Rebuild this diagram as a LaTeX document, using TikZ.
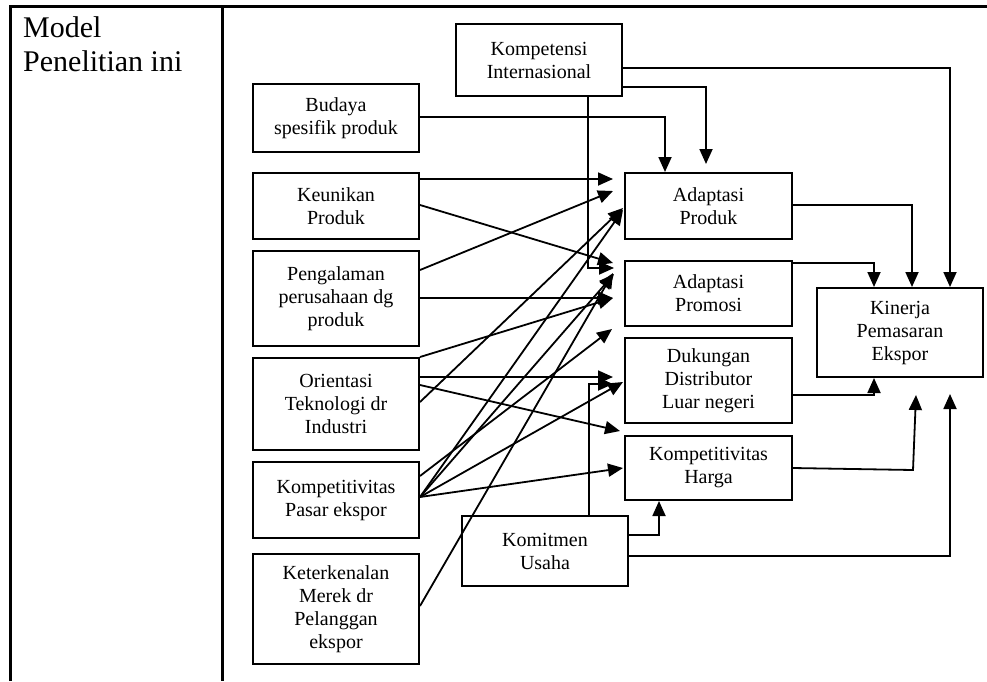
\documentclass[tikz,border=0pt]{standalone}
\usepackage{fontspec}
\setmainfont{Liberation Serif}
\usetikzlibrary{arrows.meta,calc}
\begin{document}
\begin{tikzpicture}[x=1pt,y=-1pt,
  box/.style={draw, line width=2pt, align=center, inner sep=0pt, anchor=north west,
              font=\fontsize{20}{23}\selectfont},
  link/.style={line width=1.8pt},
  arr/.style={link, -{Triangle[length=15pt,width=13pt]}},
  frame/.style={line width=3pt},
  title/.style={anchor=base west, inner sep=0pt, font=\fontsize{30}{34}\selectfont}]

\useasboundingbox (0,0) rectangle (987,681);

% table frame
\draw[frame] (10,681) -- (10,6) -- (987,6);
\draw[frame] (222,6) -- (222,681);

% left column
\node[title] (t1) at (23,37) {Model};
\node[title] (t2) at (23,71) {Penelitian ini};

% antecedent boxes
\node[box, minimum width=166pt, minimum height=72pt]  (ki)  at (455,23)  {Kompetensi\\Internasional};
\node[box, minimum width=166pt, minimum height=68pt]  (bsp) at (252,83)  {Budaya\\spesifik produk};
\node[box, minimum width=166pt, minimum height=66pt]  (kp)  at (252,172) {Keunikan\\Produk};
\node[box, minimum width=166pt, minimum height=95pt]  (pp)  at (252,250) {Pengalaman\\perusahaan dg\\produk};
\node[box, minimum width=166pt, minimum height=92pt]  (ot)  at (252,357) {Orientasi\\Teknologi dr\\Industri};
\node[box, minimum width=166pt, minimum height=76pt]  (kpe) at (252,461) {Kompetitivitas\\Pasar ekspor};
\node[box, minimum width=166pt, minimum height=110pt] (km)  at (252,553) {Keterkenalan\\Merek dr\\Pelanggan\\ekspor};
\node[box, minimum width=166pt, minimum height=70pt]  (ku)  at (461,515) {Komitmen\\Usaha};

% mediating boxes
\node[box, minimum width=167pt, minimum height=66pt]  (ap)  at (624,172) {Adaptasi\\Produk};
\node[box, minimum width=167pt, minimum height=65pt]  (apr) at (624,260) {Adaptasi\\Promosi};
\node[box, minimum width=167pt, minimum height=85pt]  (dd)  at (624,337) {Dukungan\\Distributor\\Luar negeri};
\node[box, minimum width=167pt, minimum height=64pt]  (kh)  at (624,435) {Kompetitivitas\\Harga};

% outcome
\node[box, minimum width=166pt, minimum height=89pt]  (kin) at (816,287) {Kinerja\\Pemasaran\\Ekspor};

% free arrow end
\coordinate (free) at ($(apr.south west)+(-12,2)$);

% Kompetensi Internasional
\draw[arr] ($(ki.north east)+(0,45)$) -| ($(kin.north west)+(134,0)$);
\draw[arr] ($(ki.north east)+(0,64)$) -| ($(ap.north west)+(82,-8)$);
\draw[arr] ($(ki.south west)+(133,0)$) |- ($(apr.north west)+(-10,8)$);

% Budaya spesifik produk
\draw[arr] ($(bsp.north east)+(0,34)$) -| ($(ap.north west)+(41,0)$);

% Keunikan Produk
\draw[arr] ($(kp.north east)+(0,7)$)  -- ($(ap.north west)+(-11,7)$);
\draw[arr] ($(kp.north east)+(0,33)$) -- ($(apr.north west)+(-11,3)$);

% Pengalaman perusahaan
\draw[arr] ($(pp.north east)+(0,20)$) -- ($(ap.north west)+(-11,19)$);
\draw[arr] ($(pp.north east)+(0,48)$) -- ($(apr.north west)+(-11,38)$);

% Orientasi Teknologi
\draw[arr] (ot.north east) -- ($(apr.north west)+(-11,38)$);
\draw[arr] ($(ot.north east)+(0,45)$) -- ($(ap.north west)+(-1,36)$);
\draw[arr] ($(ot.north east)+(0,20)$) -- ($(dd.north west)+(-11,40)$);
\draw[arr] ($(ot.north east)+(0,28)$) -- ($(kh.north west)+(-4,-4)$);

% Kompetitivitas Pasar ekspor
\draw[arr] ($(kpe.north east)+(0,15)$) -- (free);
\draw[arr] ($(kpe.north east)+(0,36)$) -- ($(ap.north west)+(-1,38)$);
\draw[arr] ($(kpe.north east)+(0,36)$) -- ($(apr.north west)+(-10,14)$);
\draw[arr] ($(kpe.north east)+(0,36)$) -- ($(dd.north west)+(-1,45)$);
\draw[arr] ($(kpe.north east)+(0,36)$) -- ($(kh.north west)+(-1,33)$);

% Keterkenalan Merek
\draw[arr] ($(km.north east)+(0,53)$) -- ($(apr.north west)+(-11,13)$);

% Komitmen Usaha
\draw[arr] ($(ku.north west)+(128,0)$) |- ($(dd.north west)+(-11,47)$);
\draw[arr] ($(ku.north east)+(0,20)$) -| ($(kh.south west)+(35,0)$);
\draw[arr] ($(ku.north east)+(0,41)$) -| ($(kin.south west)+(134,16)$);

% mediators to Kinerja
\draw[arr] ($(ap.north east)+(0,33)$) -| ($(kin.north west)+(96,0)$);
\draw[arr] ($(apr.north east)+(0,3)$) -| ($(kin.north west)+(58,0)$);
\draw[arr] ($(dd.north east)+(0,58)$) -| ($(kin.south west)+(58,0)$);
\draw[arr] ($(kh.north east)+(0,33)$) -- ($(kin.south west)+(97,92)$) -- ($(kin.south west)+(100,17)$);

\end{tikzpicture}
\end{document}
